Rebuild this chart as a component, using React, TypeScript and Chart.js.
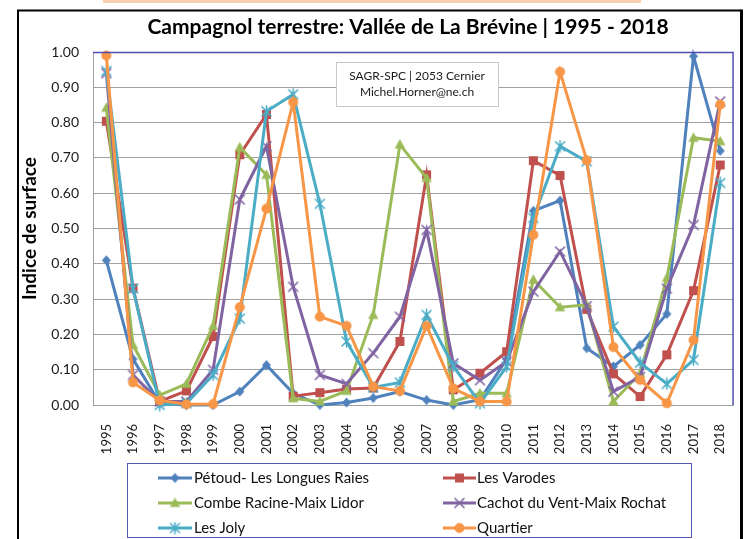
import React, { useEffect, useRef } from 'react';
import { Chart, registerables } from 'chart.js';

Chart.register(...registerables);

const years = ['1995', '1996', '1997', '1998', '1999', '2000', '2001', '2002', '2003', '2004', '2005', '2006', '2007', '2008', '2009', '2010', '2011', '2012', '2013', '2014', '2015', '2016', '2017', '2018'];

const petoud = [0.41, 0.13, 0.005, 0.0, 0.0, 0.038, 0.113, 0.033, 0.0, 0.007, 0.02, 0.038, 0.014, 0.0, 0.015, 0.13, 0.55, 0.579, 0.161, 0.109, 0.17, 0.258, 0.988, 0.72];
const varodes = [0.804, 0.331, 0.01, 0.04, 0.194, 0.709, 0.823, 0.025, 0.035, 0.045, 0.048, 0.18, 0.652, 0.043, 0.09, 0.151, 0.692, 0.65, 0.271, 0.088, 0.024, 0.142, 0.324, 0.68];
const combe = [0.842, 0.17, 0.028, 0.06, 0.224, 0.73, 0.652, 0.019, 0.01, 0.04, 0.255, 0.738, 0.643, 0.01, 0.033, 0.033, 0.355, 0.277, 0.284, 0.01, 0.09, 0.36, 0.757, 0.747];
const cachot = [0.94, 0.085, 0.01, 0.01, 0.1, 0.582, 0.733, 0.335, 0.085, 0.06, 0.147, 0.25, 0.496, 0.118, 0.07, 0.123, 0.321, 0.435, 0.28, 0.038, 0.08, 0.33, 0.51, 0.86];
const joly = [0.946, 0.33, 0.0, 0.005, 0.085, 0.245, 0.832, 0.88, 0.57, 0.18, 0.05, 0.064, 0.255, 0.11, 0.005, 0.109, 0.53, 0.733, 0.69, 0.222, 0.12, 0.06, 0.128, 0.629];
const quartier = [0.99, 0.064, 0.013, 0.002, 0.003, 0.277, 0.556, 0.858, 0.25, 0.224, 0.052, 0.04, 0.224, 0.047, 0.01, 0.01, 0.482, 0.944, 0.693, 0.164, 0.071, 0.005, 0.184, 0.851];

const seriesNames = ['Pétoud- Les Longues Raies', 'Les Varodes', 'Combe Racine-Maix Lidor', 'Cachot du Vent-Maix Rochat', 'Les Joly', 'Quartier'];
const seriesValues = [petoud, varodes, combe, cachot, joly, quartier];
const seriesColors = ['#4F81BD', '#C0504D', '#9BBB59', '#8064A2', '#4BACC6', '#F79646'];
const seriesMarkers = ['diamond', 'square', 'triangle', 'x', 'star', 'circle'];

const titleText = 'Campagnol terrestre: Vallée de La Brévine | 1995 - 2018';
const yAxisTitle = 'Indice de surface';
const noteLines = ['SAGR-SPC | 2053 Cernier', 'Michel.Horner@ne.ch'];

const FONT = 'Lato, "Open Sans", sans-serif';

function makeMarker(kind: string, color: string): HTMLCanvasElement {
  const s = 13;
  const c = document.createElement('canvas');
  c.width = s;
  c.height = s;
  const g = c.getContext('2d')!;
  const m = s / 2;
  g.fillStyle = color;
  g.strokeStyle = color;
  g.lineCap = 'round';
  switch (kind) {
    case 'diamond':
      g.beginPath();
      g.moveTo(m, m - 5);
      g.lineTo(m + 4.5, m);
      g.lineTo(m, m + 5);
      g.lineTo(m - 4.5, m);
      g.closePath();
      g.fill();
      break;
    case 'square':
      g.fillRect(m - 4.5, m - 4.5, 9, 9);
      break;
    case 'triangle':
      g.beginPath();
      g.moveTo(m, m - 5.5);
      g.lineTo(m + 5.2, m + 4);
      g.lineTo(m - 5.2, m + 4);
      g.closePath();
      g.fill();
      break;
    case 'x':
      g.lineWidth = 1.6;
      g.beginPath();
      g.moveTo(m - 4.5, m - 4.5);
      g.lineTo(m + 4.5, m + 4.5);
      g.moveTo(m + 4.5, m - 4.5);
      g.lineTo(m - 4.5, m + 4.5);
      g.stroke();
      break;
    case 'star':
      g.lineWidth = 1.6;
      g.beginPath();
      g.moveTo(m - 4.5, m - 4.5);
      g.lineTo(m + 4.5, m + 4.5);
      g.moveTo(m + 4.5, m - 4.5);
      g.lineTo(m - 4.5, m + 4.5);
      g.moveTo(m, m - 5.5);
      g.lineTo(m, m + 5.5);
      g.stroke();
      break;
    default:
      g.beginPath();
      g.arc(m, m, 5, 0, Math.PI * 2);
      g.fill();
  }
  return c;
}

export default function App() {
  const ref = useRef<HTMLCanvasElement | null>(null);

  useEffect(() => {
    if (!ref.current) return;
    const markers = seriesMarkers.map((k, i) => makeMarker(k, seriesColors[i]));

    const decor = {
      id: 'decor',
      beforeDraw(chart: any) {
        const ctx = chart.ctx as CanvasRenderingContext2D;
        ctx.save();
        ctx.fillStyle = '#ffffff';
        ctx.fillRect(0, 0, chart.width, chart.height);
        ctx.fillStyle = '#F8CFB2';
        ctx.fillRect(103, 0, 538, 3);
        ctx.strokeStyle = '#000000';
        ctx.lineWidth = 2;
        ctx.beginPath();
        ctx.moveTo(18, 539);
        ctx.lineTo(18, 10.5);
        ctx.lineTo(741, 10.5);
        ctx.stroke();
        ctx.lineWidth = 3;
        ctx.beginPath();
        ctx.moveTo(741.5, 9.5);
        ctx.lineTo(741.5, 539);
        ctx.stroke();
        ctx.restore();
      },
      afterDraw(chart: any) {
        const ctx = chart.ctx as CanvasRenderingContext2D;
        const a = chart.chartArea;
        ctx.save();
        // plot area border (top / right)
        ctx.strokeStyle = '#4E4EB2';
        ctx.lineWidth = 1.5;
        ctx.beginPath();
        ctx.moveTo(a.left, a.top + 0.5);
        ctx.lineTo(a.right - 0.5, a.top + 0.5);
        ctx.lineTo(a.right - 0.5, a.bottom);
        ctx.stroke();

        // title
        ctx.fillStyle = '#000000';
        ctx.font = 'bold 21px ' + FONT;
        ctx.textAlign = 'center';
        ctx.textBaseline = 'middle';
        ctx.fillText(titleText, 408, 27);

        // note box
        ctx.fillStyle = '#ffffff';
        ctx.fillRect(336.5, 62.5, 162, 44);
        ctx.strokeStyle = '#C8C8C8';
        ctx.lineWidth = 1;
        ctx.strokeRect(336.5, 62.5, 162, 44);
        ctx.fillStyle = '#1a1a1a';
        ctx.font = '12px ' + FONT;
        ctx.fillText(noteLines[0], 417, 76.5);
        ctx.fillText(noteLines[1], 417, 92.5);

        // legend box
        ctx.strokeStyle = '#5656B6';
        ctx.lineWidth = 1;
        ctx.strokeRect(127.5, 463.5, 564, 74);
        ctx.font = '15px ' + FONT;
        ctx.textAlign = 'left';
        const rows = [478, 503, 528];
        const cols = [{ l0: 158, l1: 192, t: 194 }, { l0: 443, l1: 476, t: 477 }];
        seriesNames.forEach((name, i) => {
          const r = rows[Math.floor(i / 2)];
          const c = cols[i % 2];
          ctx.strokeStyle = seriesColors[i];
          ctx.lineWidth = 3;
          ctx.beginPath();
          ctx.moveTo(c.l0, r);
          ctx.lineTo(c.l1, r);
          ctx.stroke();
          const mk = markers[i];
          ctx.drawImage(mk, (c.l0 + c.l1) / 2 - mk.width / 2, r - mk.height / 2);
          ctx.fillStyle = '#111111';
          ctx.fillText(name, c.t, r + 0.5);
        });
        ctx.restore();
      },
    };

    const chart = new Chart(ref.current, {
      type: 'line',
      data: {
        labels: years,
        datasets: seriesValues.map((vals, i) => ({
          label: seriesNames[i],
          data: vals,
          borderColor: seriesColors[i],
          backgroundColor: seriesColors[i],
          borderWidth: 3,
          pointStyle: markers[i] as any,
          pointRadius: 5,
          tension: 0,
          fill: false,
          clip: false as any,
          order: 5 - i,
        })),
      },
      options: {
        responsive: false,
        animation: false,
        devicePixelRatio: 1,
        layout: { padding: { left: 0, top: 52, right: 10, bottom: 0 } },
        plugins: {
          legend: { display: false },
          tooltip: { enabled: false },
          title: { display: false },
        },
        scales: {
          x: {
            type: 'category',
            offset: true,
            grid: { display: false },
            border: { display: true, color: '#A0A0A0', width: 1 },
            ticks: {
              autoSkip: false,
              minRotation: 90,
              maxRotation: 90,
              padding: 11,
              color: '#1a1a1a',
              font: { family: FONT, size: 13 },
            },
            afterFit(scale: any) {
              scale.height = 134;
            },
          },
          y: {
            min: 0,
            max: 1,
            grid: { color: '#A0A0A0', lineWidth: 1, drawTicks: false },
            border: { display: true, color: '#A0A0A0', width: 1 },
            ticks: {
              stepSize: 0.1,
              padding: 14,
              color: '#1a1a1a',
              font: { family: FONT, size: 14 },
              callback: (v: any) => Number(v).toFixed(2),
            },
            title: {
              display: true,
              text: yAxisTitle,
              color: '#000000',
              font: { family: FONT, size: 19, weight: 'bold' },
              padding: { top: 18, bottom: 0 },
            },
            afterFit(scale: any) {
              scale.width = 93;
            },
          },
        },
      },
      plugins: [decor],
    });
    return () => chart.destroy();
  }, []);

  return (
    <div style={{ position: 'fixed', left: 0, top: 0, width: 747, height: 539, background: '#fff' }}>
      <canvas ref={ref} width={747} height={539} style={{ display: 'block' }} />
    </div>
  );
}
